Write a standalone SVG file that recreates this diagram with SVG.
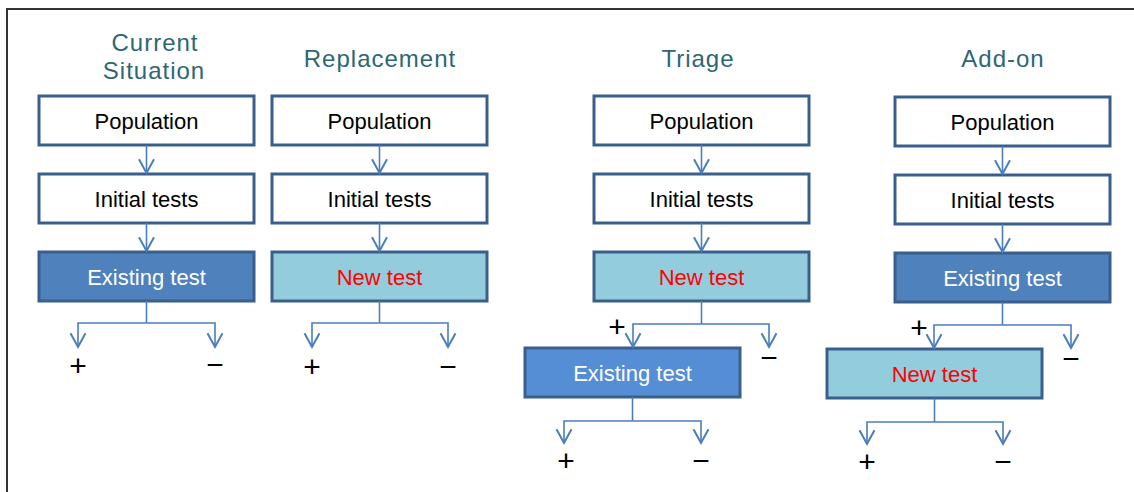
<svg xmlns="http://www.w3.org/2000/svg" width="1134" height="492" viewBox="0 0 1134 492">
<defs>
<style>
.title{font-family:"Liberation Sans",Arial,sans-serif;font-size:24px;fill:#2E6675;text-anchor:middle;letter-spacing:1px}
.lbl{font-family:"Liberation Sans",Arial,sans-serif;font-size:22px;text-anchor:middle}
.sign{font-family:"Liberation Sans",Arial,sans-serif;font-size:30px;fill:#000;text-anchor:middle}
.plain{fill:#fff;stroke:#3B5F8D;stroke-width:3}
.exist{fill:#4F81BD;stroke:#3B5F8D;stroke-width:3}
.exist2{fill:#558ED5;stroke:#3B5F8D;stroke-width:3}
.newt{fill:#93CDDD;stroke:#3B5F8D;stroke-width:3}
.conn{fill:none;stroke:#4A7EBB;stroke-width:1.6}
</style>
<marker id="ah" markerUnits="userSpaceOnUse" markerWidth="20" markerHeight="20" refX="0" refY="0" viewBox="-12 -8 14 16" orient="auto" overflow="visible">
<path d="M-11,-6 L0,0 L-11,6" fill="none" stroke="#4A7EBB" stroke-width="1.6"/>
</marker>
</defs>
<rect x="0" y="0" width="1134" height="492" fill="#fff"/>
<path d="M7,492 V9 H1134" fill="none" stroke="#333" stroke-width="2"/>

<g id="titles">
<text class="title" x="155" y="51">Current</text>
<text class="title" x="154" y="79">Situation</text>
<text class="title" x="380" y="67">Replacement</text>
<text class="title" x="698" y="67">Triage</text>
<text class="title" x="1003" y="67">Add-on</text>
</g>

<g id="c1-population"><rect class="plain" x="39" y="96" width="215" height="49"/><text class="lbl" x="146.5" y="129">Population</text></g>
<g id="c1-initial"><rect class="plain" x="39" y="174" width="215" height="49"/><text class="lbl" x="146.5" y="207">Initial tests</text></g>
<g id="c1-existing"><rect class="exist" x="39" y="252" width="215" height="49"/><text class="lbl" x="146.5" y="285" fill="#fff">Existing test</text></g>

<g id="c2-population"><rect class="plain" x="272" y="96" width="215" height="49"/><text class="lbl" x="379.5" y="129">Population</text></g>
<g id="c2-initial"><rect class="plain" x="272" y="174" width="215" height="49"/><text class="lbl" x="379.5" y="207">Initial tests</text></g>
<g id="c2-new"><rect class="newt" x="272" y="252" width="215" height="49"/><text class="lbl" x="379.5" y="285" fill="#FF0000">New test</text></g>

<g id="c3-population"><rect class="plain" x="594" y="96" width="215" height="49"/><text class="lbl" x="701.5" y="129">Population</text></g>
<g id="c3-initial"><rect class="plain" x="594" y="174" width="215" height="49"/><text class="lbl" x="701.5" y="207">Initial tests</text></g>
<g id="c3-new"><rect class="newt" x="594" y="252" width="215" height="49"/><text class="lbl" x="701.5" y="285" fill="#FF0000">New test</text></g>
<g id="c3-existing"><rect class="exist2" x="525" y="348" width="215" height="49"/><text class="lbl" x="632.5" y="381" fill="#fff">Existing test</text></g>

<g id="c4-population"><rect class="plain" x="895" y="97" width="215" height="49"/><text class="lbl" x="1002.5" y="130">Population</text></g>
<g id="c4-initial"><rect class="plain" x="895" y="175" width="215" height="49"/><text class="lbl" x="1002.5" y="208">Initial tests</text></g>
<g id="c4-existing"><rect class="exist" x="895" y="253" width="215" height="49"/><text class="lbl" x="1002.5" y="286" fill="#fff">Existing test</text></g>
<g id="c4-new"><rect class="newt" x="827" y="349" width="215" height="49"/><text class="lbl" x="934.5" y="382" fill="#FF0000">New test</text></g>

<g id="connectors">
<path class="conn" d="M146.5,145 V173" marker-end="url(#ah)"/>
<path class="conn" d="M146.5,223 V251" marker-end="url(#ah)"/>
<path class="conn" d="M146.5,301 V323"/>
<path class="conn" d="M146.5,323 H78 V347" marker-end="url(#ah)"/>
<path class="conn" d="M146.5,323 H215 V347" marker-end="url(#ah)"/>

<path class="conn" d="M379.5,145 V173" marker-end="url(#ah)"/>
<path class="conn" d="M379.5,223 V251" marker-end="url(#ah)"/>
<path class="conn" d="M379.5,301 V323"/>
<path class="conn" d="M379.5,323 H312 V347" marker-end="url(#ah)"/>
<path class="conn" d="M379.5,323 H448 V347" marker-end="url(#ah)"/>

<path class="conn" d="M701.5,145 V173" marker-end="url(#ah)"/>
<path class="conn" d="M701.5,223 V251" marker-end="url(#ah)"/>
<path class="conn" d="M701.5,301 V324"/>
<path class="conn" d="M701.5,324 H633 V347" marker-end="url(#ah)"/>
<path class="conn" d="M701.5,324 H769 V347" marker-end="url(#ah)"/>
<path class="conn" d="M632.5,397 V421"/>
<path class="conn" d="M632.5,421 H564 V443" marker-end="url(#ah)"/>
<path class="conn" d="M632.5,421 H701 V443" marker-end="url(#ah)"/>

<path class="conn" d="M1002.5,146 V174" marker-end="url(#ah)"/>
<path class="conn" d="M1002.5,224 V252" marker-end="url(#ah)"/>
<path class="conn" d="M1002.5,302 V325"/>
<path class="conn" d="M1002.5,325 H934 V348" marker-end="url(#ah)"/>
<path class="conn" d="M1002.5,325 H1071 V348" marker-end="url(#ah)"/>
<path class="conn" d="M934.5,398 V422"/>
<path class="conn" d="M934.5,422 H867 V444" marker-end="url(#ah)"/>
<path class="conn" d="M934.5,422 H1003 V444" marker-end="url(#ah)"/>
</g>

<g id="signs">
<text class="sign" x="78" y="376">+</text>
<text class="sign" x="215" y="375">−</text>
<text class="sign" x="312" y="377">+</text>
<text class="sign" x="448" y="377">−</text>
<text class="sign" x="617" y="337">+</text>
<text class="sign" x="769" y="368">−</text>
<text class="sign" x="566" y="471">+</text>
<text class="sign" x="701" y="471">−</text>
<text class="sign" x="919" y="338">+</text>
<text class="sign" x="1071" y="369">−</text>
<text class="sign" x="867" y="472">+</text>
<text class="sign" x="1003" y="472">−</text>
</g>
</svg>
